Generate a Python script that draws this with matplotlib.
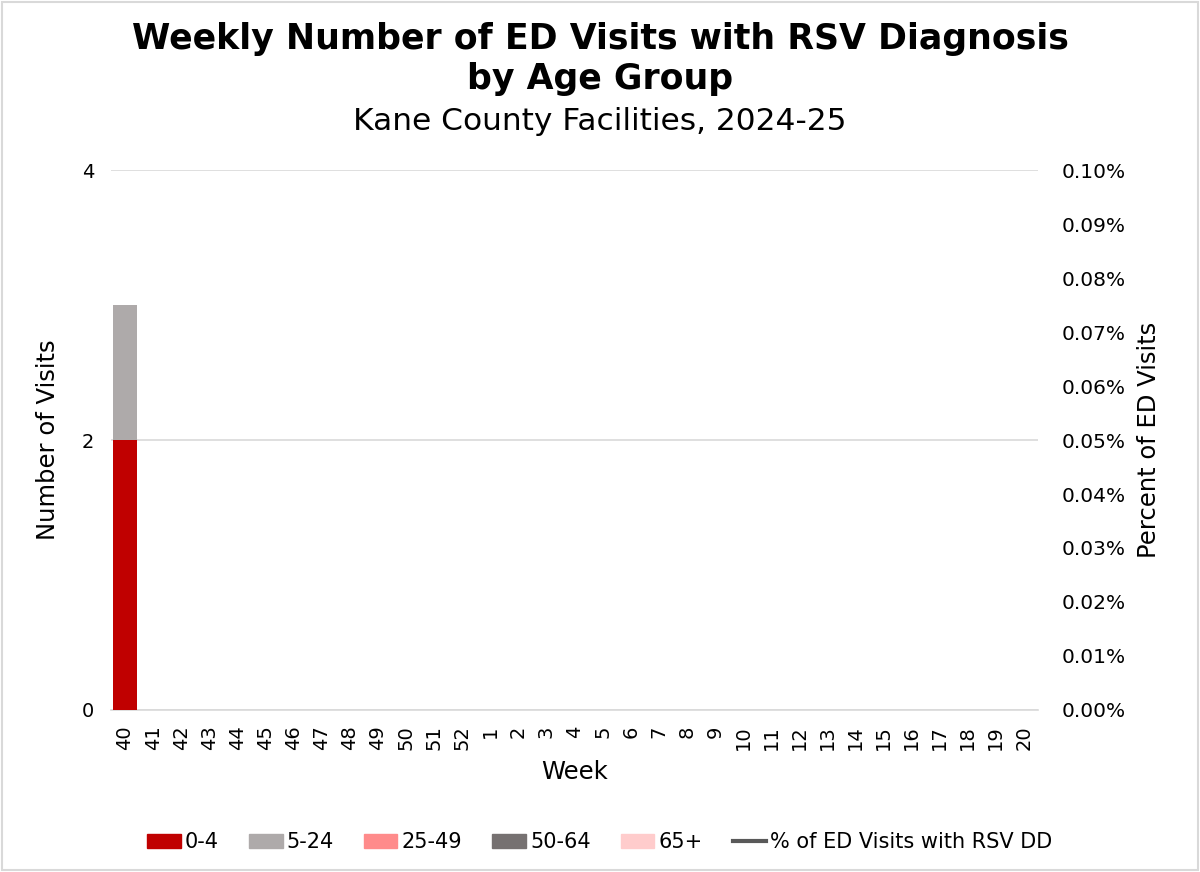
import matplotlib
matplotlib.use("Agg")
import matplotlib.pyplot as plt
import numpy as np
from matplotlib.patches import Rectangle
from matplotlib.lines import Line2D
from matplotlib.ticker import FuncFormatter

weeks = ["40", "41", "42", "43", "44", "45", "46", "47", "48", "49", "50", "51", "52",
         "1", "2", "3", "4", "5", "6", "7", "8", "9", "10", "11", "12", "13", "14",
         "15", "16", "17", "18", "19", "20"]
age_0_4 = [2] + [0] * 32
age_5_24 = [1] + [0] * 32
age_25_49 = [0] * 33
age_50_64 = [0] * 33
age_65p = [0] * 33
pct_ed = [np.nan] * 33  # no visible line values

series = [("0-4", age_0_4, "#C00000"),
          ("5-24", age_5_24, "#AEAAAA"),
          ("25-49", age_25_49, "#FF8B8B"),
          ("50-64", age_50_64, "#767171"),
          ("65+", age_65p, "#FFCCCC")]

plt.rcParams['font.family'] = ['DejaVu Sans']
fig = plt.figure(figsize=(12, 8.72), dpi=100)
fig.patches.append(Rectangle((0.002, 0.002), 0.996, 0.996, transform=fig.transFigure,
                             fill=False, edgecolor="#D9D9D9", linewidth=1.5))
ax = fig.add_axes([0.0925, 0.1858, 0.7725, 0.6192])
x = np.arange(len(weeks))
bottom = np.zeros(len(weeks))
handles = []
for name, vals, col in series:
    v = np.array(vals, dtype=float)
    ax.bar(x, v, bottom=bottom, width=0.87, color=col, label=name, zorder=3)
    bottom += v
    handles.append(Rectangle((0, 0), 1, 1, color=col))

ax.set_xlim(-0.5, len(weeks) - 0.5)
ax.set_ylim(0, 4)
ax.set_yticks([0, 2, 4])
ax.grid(axis="y", color="#D9D9D9", linewidth=1.2, zorder=0)
for s in ["top", "right", "left"]:
    ax.spines[s].set_visible(False)
ax.spines["bottom"].set_color("#D9D9D9")
ax.spines["bottom"].set_linewidth(1.2)
ax.tick_params(axis="both", length=0, labelsize=14, colors="#000000")
ax.tick_params(axis="y", pad=12)
ax.tick_params(axis="x", pad=11)
ax.set_xticks(x)
ax.set_xticklabels(weeks, rotation=90)
ax.set_xlabel("Week", fontsize=17.5, labelpad=7)
ax.set_ylabel("Number of Visits", fontsize=17.5, labelpad=16)

ax2 = ax.twinx()
ax2.plot(x, pct_ed, color="#595959", linewidth=3)
ax2.set_ylim(0, 0.0010)
ax2.set_yticks(np.arange(0, 0.00101, 0.0001))
ax2.yaxis.set_major_formatter(FuncFormatter(lambda v, p: f"{v*100:.2f}%"))
for s in ["top", "right", "left", "bottom"]:
    ax2.spines[s].set_visible(False)
ax2.tick_params(axis="y", length=0, labelsize=14.5, pad=17)
ax2.set_ylabel("Percent of ED Visits", fontsize=17.5, labelpad=8)

handles.append(Line2D([0], [0], color="#595959", linewidth=3))
labels = [s[0] for s in series] + ["% of ED Visits with RSV DD"]
fig.legend(handles, labels, loc="center", bbox_to_anchor=(0.5, 0.034), ncol=6,
           frameon=False, fontsize=15, handlelength=1.6, handleheight=0.65,
           handletextpad=0.2, columnspacing=1.45)

fig.text(0.5, 0.955, "Weekly Number of ED Visits with RSV Diagnosis", ha="center", va="center",
         fontsize=25, fontweight="bold")
fig.text(0.5, 0.909, "by Age Group", ha="center", va="center", fontsize=25, fontweight="bold")
fig.text(0.5, 0.861, "Kane County Facilities, 2024-25", ha="center", va="center", fontsize=22.5)

fig.savefig("out.png", dpi=100)
